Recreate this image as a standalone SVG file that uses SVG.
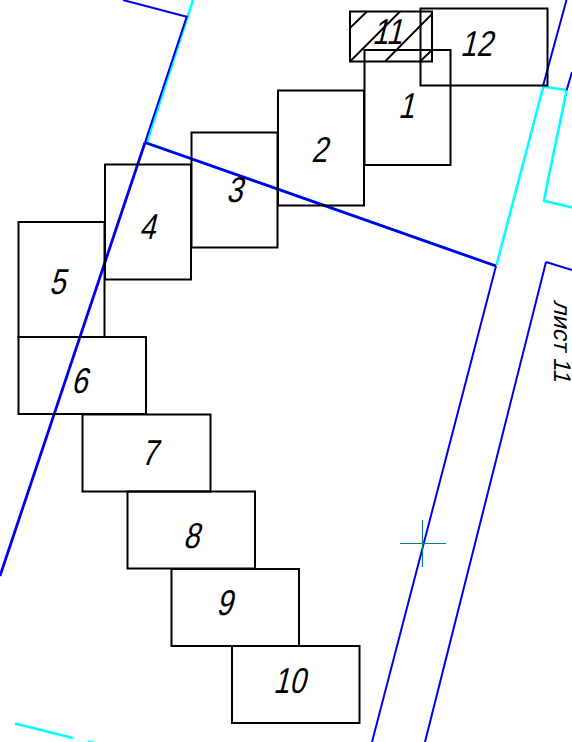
<svg xmlns="http://www.w3.org/2000/svg" width="572" height="742" viewBox="0 0 572 742">
<style>
.b{fill:none;stroke:#000;stroke-width:2}
.h{fill:none;stroke:#000;stroke-width:1.8}
.blue{fill:none;stroke:#0000f0;stroke-width:2}
.blue2{fill:none;stroke:#0000f0;stroke-width:2.8}
.cy{fill:none;stroke:#00ffff;stroke-width:2.6}
.t{font-family:"Liberation Sans",sans-serif;font-size:36px;fill:#000;text-anchor:middle}
.s{font-family:"Liberation Sans",sans-serif;font-size:24px;fill:#000}
</style>
<rect width="572" height="742" fill="#fff"/>
<g id="connectors">
<path class="cy" d="M193 0L147 142M147 143L496 266M496.500 265L543.300 86.700L566.700 90L548 180L544 200.700L572 207.500M15 723.500L73 738M88 741.500L95 743"/>
<path class="blue" d="M123 0L186.700 16.700L145 142.500"/>
<path class="blue2" d="M145 142.500L0 576"/>
<path class="blue2" d="M145 142.500L496 266"/>
<path class="blue" d="M496 266L372 742M546 262L425 742M546 262L572 270M543 86L566.500 0M566.700 90L572 72"/>
<path d="M400 543.500H446M422.500 520V567" fill="none" stroke="#008080" stroke-width="1.200"/>
</g>
<g id="node-11"><rect class="b" x="350" y="11.500" width="82" height="50"/>
<path class="h" d="M350 28L367 11.500M350 61.500L400 11.500M385 61.500L432 14M420 61.500L432 50"/><text class="t" transform="translate(387 44) skewX(-14) scale(.8 1)">11</text></g>
<g id="node-12"><rect class="b" x="420.500" y="8.500" width="127" height="77"/><text class="t" transform="translate(476 56) skewX(-14) scale(.8 1)">12</text></g>
<g id="node-1"><rect class="b" x="364.500" y="50" width="86" height="115"/><text class="t" transform="translate(406 118) skewX(-14) scale(.8 1)">1</text></g>
<g id="node-2"><rect class="b" x="278" y="90.500" width="86" height="115"/><text class="t" transform="translate(319 162) skewX(-14) scale(.8 1)">2</text></g>
<g id="node-3"><rect class="b" x="191.500" y="132.500" width="86" height="115"/><text class="t" transform="translate(234 202) skewX(-14) scale(.8 1)">3</text></g>
<g id="node-4"><rect class="b" x="105" y="164.500" width="86" height="115"/><text class="t" transform="translate(147 239) skewX(-14) scale(.8 1)">4</text></g>
<g id="node-5"><rect class="b" x="18.500" y="222" width="86" height="115"/><text class="t" transform="translate(57 294) skewX(-14) scale(.8 1)">5</text></g>
<g id="node-6"><rect class="b" x="18.500" y="337" width="127.500" height="77"/><text class="t" transform="translate(79 393) skewX(-14) scale(.8 1)">6</text></g>
<g id="node-7"><rect class="b" x="82.500" y="414.500" width="128" height="77"/><text class="t" transform="translate(149 465) skewX(-14) scale(.8 1)">7</text></g>
<g id="node-8"><rect class="b" x="127.500" y="491.500" width="127.500" height="77"/><text class="t" transform="translate(191 548) skewX(-14) scale(.8 1)">8</text></g>
<g id="node-9"><rect class="b" x="171.500" y="569" width="127.500" height="77"/><text class="t" transform="translate(224 615) skewX(-14) scale(.8 1)">9</text></g>
<g id="node-10"><rect class="b" x="232" y="646" width="127.500" height="77"/><text class="t" transform="translate(289 693) skewX(-14) scale(.8 1)">10</text></g>
<text class="s" transform="translate(554 300) rotate(90) skewX(-14)">лист 11</text>
</svg>
